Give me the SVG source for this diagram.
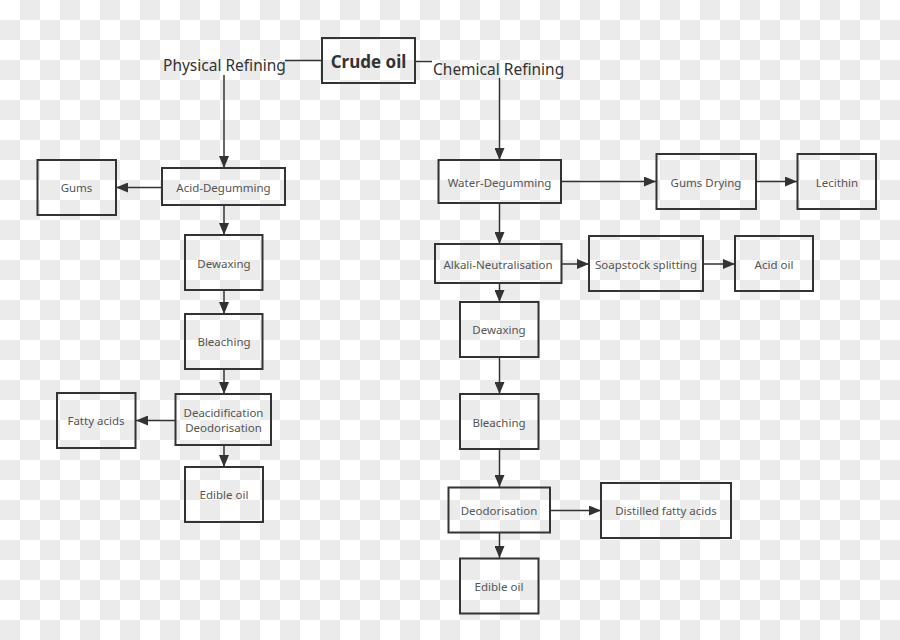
<svg xmlns="http://www.w3.org/2000/svg" width="900" height="640" viewBox="0 0 900 640">
<defs>
<pattern id="checker" x="0" y="0" width="40" height="40" patternUnits="userSpaceOnUse">
<rect x="0" y="0" width="40" height="40" fill="#ffffff"/>
<rect x="20" y="0" width="20" height="20" fill="#ebebeb"/>
<rect x="0" y="20" width="20" height="20" fill="#ebebeb"/>
</pattern>
<marker id="arr" viewBox="0 0 12 10" refX="12" refY="5" markerWidth="12" markerHeight="10" markerUnits="userSpaceOnUse" orient="auto">
<path d="M0,0 L12,5 L0,10 Z" fill="#333333"/>
</marker>
<style>
.box{fill:none;stroke:#333333;stroke-width:2}
.lbl{font-family:"Noto Sans","Open Sans","DejaVu Sans",sans-serif;font-size:11.5px;fill:#555555;text-anchor:middle;dominant-baseline:central}
.head{font-family:"Noto Sans","Open Sans","DejaVu Sans",sans-serif;font-size:15.5px;fill:#333333}
.ln{fill:none;stroke:#333333;stroke-width:1.5}
.ar{fill:none;stroke:#333333;stroke-width:1.5;marker-end:url(#arr)}
</style>
</defs>
<rect x="0" y="0" width="900" height="640" fill="url(#checker)"/>

<g id="connectors">
<line class="ln" x1="285" y1="60.5" x2="322" y2="60.5"/>
<line class="ln" x1="415" y1="61.5" x2="432" y2="61.5"/>
<line class="ar" x1="224" y1="75" x2="224" y2="168"/>
<line class="ar" x1="499.5" y1="78" x2="499.5" y2="160"/>
<line class="ar" x1="162" y1="187.5" x2="116" y2="187.5"/>
<line class="ar" x1="224" y1="205" x2="224" y2="235"/>
<line class="ar" x1="224" y1="290" x2="224" y2="314"/>
<line class="ar" x1="224" y1="369" x2="224" y2="394"/>
<line class="ar" x1="175" y1="420.5" x2="136" y2="420.5"/>
<line class="ar" x1="224" y1="445" x2="224" y2="467"/>
<line class="ar" x1="561" y1="181.5" x2="656" y2="181.5"/>
<line class="ar" x1="756" y1="181.5" x2="797" y2="181.5"/>
<line class="ar" x1="499.5" y1="203" x2="499.5" y2="244"/>
<line class="ar" x1="562" y1="264" x2="589" y2="264"/>
<line class="ar" x1="703" y1="264" x2="735" y2="264"/>
<line class="ar" x1="499.5" y1="283" x2="499.5" y2="302"/>
<line class="ar" x1="499.5" y1="357" x2="499.5" y2="394"/>
<line class="ar" x1="499.5" y1="449" x2="499.5" y2="487"/>
<line class="ar" x1="550" y1="510.5" x2="601" y2="510.5"/>
<line class="ar" x1="499.5" y1="533" x2="499.5" y2="558"/>
</g>

<g id="crude-oil">
<rect class="box" x="322" y="38" width="93" height="45"/>
<text x="368.5" y="61" style="font-family:'Noto Sans','Open Sans',sans-serif;font-size:17px;font-weight:bold;fill:#333333;text-anchor:middle;dominant-baseline:central">Crude oil</text>
</g>
<g id="physical-refining"><text class="head" x="163" y="71">Physical Refining</text></g>
<g id="chemical-refining"><text class="head" x="433" y="75">Chemical Refining</text></g>

<g id="acid-degumming"><rect class="box" x="162" y="168" width="123" height="37"/><text class="lbl" x="223.5" y="187">Acid-Degumming</text></g>
<g id="gums"><rect class="box" x="37.5" y="160" width="78.5" height="55"/><text class="lbl" x="76.5" y="187">Gums</text></g>
<g id="dewaxing-p"><rect class="box" x="185" y="235" width="77.5" height="55"/><text class="lbl" x="224" y="263">Dewaxing</text></g>
<g id="bleaching-p"><rect class="box" x="185" y="314" width="77.5" height="55"/><text class="lbl" x="224" y="341">Bleaching</text></g>
<g id="deacid"><rect class="box" x="175.5" y="394" width="95.5" height="51"/><text class="lbl" x="223.5" y="412.5">Deacidification</text><text class="lbl" x="223.5" y="427">Deodorisation</text></g>
<g id="fatty-acids"><rect class="box" x="57" y="393" width="78.5" height="55"/><text class="lbl" x="96" y="420">Fatty acids</text></g>
<g id="edible-oil-p"><rect class="box" x="185" y="467" width="78" height="55"/><text class="lbl" x="224" y="494">Edible oil</text></g>

<g id="water-degumming"><rect class="box" x="438.5" y="160" width="122.5" height="43"/><text class="lbl" x="499.5" y="182">Water-Degumming</text></g>
<g id="gums-drying"><rect class="box" x="656.5" y="154" width="99.5" height="55"/><text class="lbl" x="706" y="182">Gums Drying</text></g>
<g id="lecithin"><rect class="box" x="797.5" y="154" width="78.5" height="55"/><text class="lbl" x="837" y="182">Lecithin</text></g>
<g id="alkali"><rect class="box" x="435" y="244" width="126.5" height="39"/><text class="lbl" x="498" y="264">Alkali-Neutralisation</text></g>
<g id="soapstock"><rect class="box" x="589" y="236" width="114" height="55"/><text class="lbl" x="646" y="264">Soapstock splitting</text></g>
<g id="acid-oil"><rect class="box" x="735" y="236" width="78" height="55"/><text class="lbl" x="774" y="264">Acid oil</text></g>
<g id="dewaxing-c"><rect class="box" x="460" y="302" width="78.5" height="55"/><text class="lbl" x="499" y="329">Dewaxing</text></g>
<g id="bleaching-c"><rect class="box" x="460" y="394" width="78.5" height="55"/><text class="lbl" x="499" y="422">Bleaching</text></g>
<g id="deodorisation"><rect class="box" x="448.5" y="487.5" width="101.5" height="45"/><text class="lbl" x="499" y="510">Deodorisation</text></g>
<g id="distilled"><rect class="box" x="601" y="483" width="130" height="55"/><text class="lbl" x="666" y="510">Distilled fatty acids</text></g>
<g id="edible-oil-c"><rect class="box" x="460" y="558.5" width="78.5" height="55"/><text class="lbl" x="499" y="586">Edible oil</text></g>
</svg>
